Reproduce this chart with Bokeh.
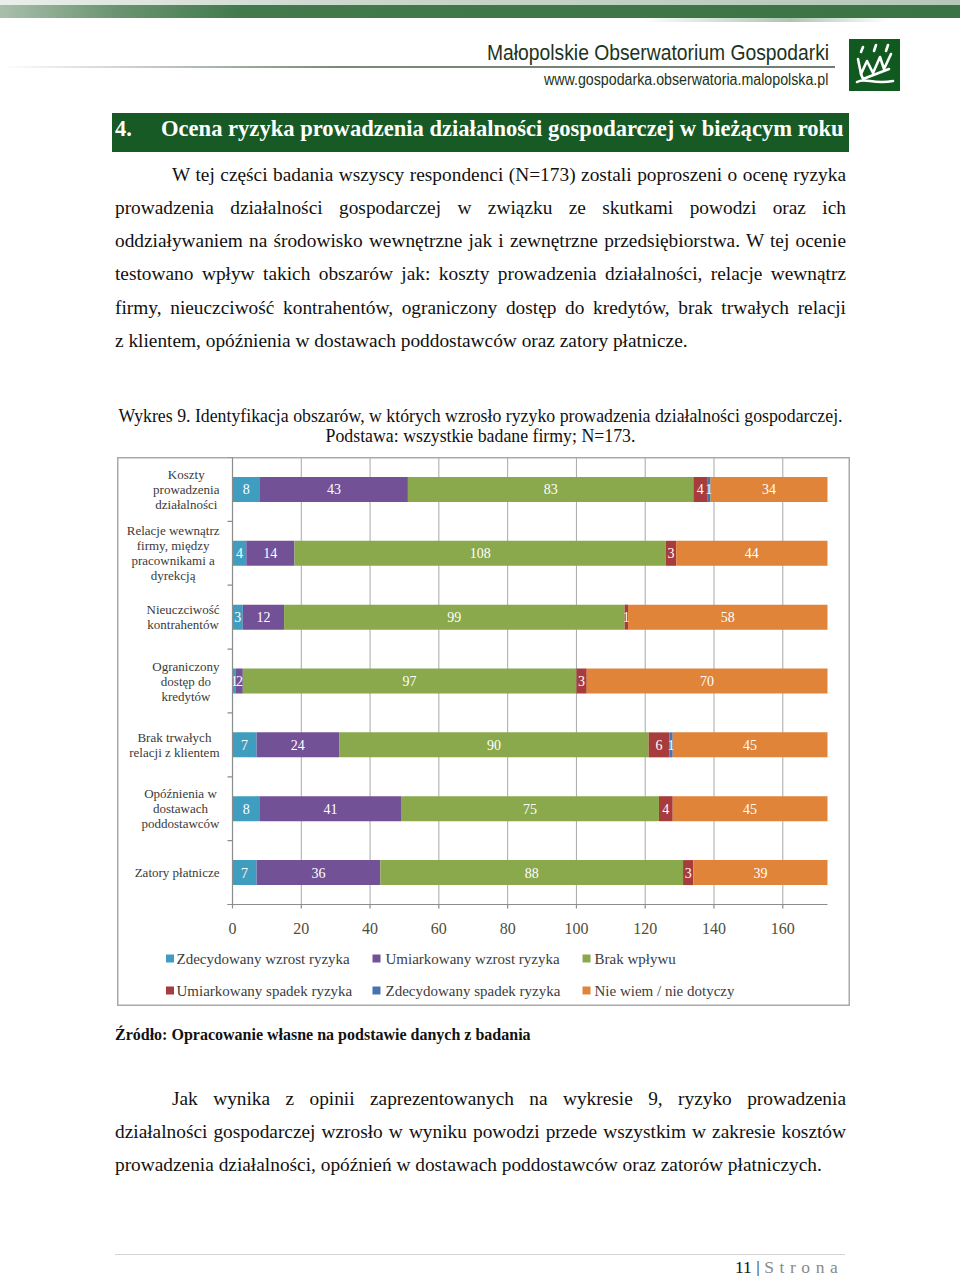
from bokeh.plotting import figure
from bokeh.models import Div, Spacer, Range1d, ColumnDataSource
from bokeh.layouts import column, row
from bokeh.embed import file_html
from bokeh.resources import INLINE
from bokeh.core.properties import value

# ---------------- data ----------------
categories = [
    "Koszty\nprowadzenia\ndziałalności",
    "Relacje wewnątrz\nfirmy, między\npracownikami a\ndyrekcją",
    "Nieuczciwość\nkontrahentów",
    "Ograniczony\ndostęp do\nkredytów",
    "Brak trwałych\nrelacji z klientem",
    "Opóźnienia w\ndostawach\npoddostawców",
    "Zatory płatnicze",
]
series_names = [
    "Zdecydowany wzrost ryzyka",
    "Umiarkowany wzrost ryzyka",
    "Brak wpływu",
    "Umiarkowany spadek  ryzyka",
    "Zdecydowany spadek ryzyka",
    "Nie wiem / nie dotyczy",
]
zdecydowany_wzrost = [8, 4, 3, 1, 7, 8, 7]
umiarkowany_wzrost = [43, 14, 12, 2, 24, 41, 36]
brak_wplywu = [83, 108, 99, 97, 90, 75, 88]
umiarkowany_spadek = [4, 3, 1, 3, 6, 4, 3]
zdecydowany_spadek = [1, 0, 0, 0, 1, 0, 0]
nie_wiem = [34, 44, 58, 70, 45, 45, 39]
x_ticks = [0, 20, 40, 60, 80, 100, 120, 140, 160]
x_tick_labels = ["0", "20", "40", "60", "80", "100", "120", "140", "160"]

series_values = [zdecydowany_wzrost, umiarkowany_wzrost, brak_wplywu,
                 umiarkowany_spadek, zdecydowany_spadek, nie_wiem]
colors = ["#3f9ebf", "#725197", "#8aa84c", "#a83b3b", "#4a72b0", "#e0843a"]

SERIF = "Liberation Serif"

# ---------------- chart geometry (pixels inside the chart box) ----------------
CHART_LEFT, CHART_TOP = 117, 457
CW, CH = 733, 549          # chart box size
X0_PX, XMAX_PX = 115, 710  # pixel of value 0 and of total (173)
TOTAL = 173
BAND = 447 / 7.0           # height of one category band
sx = (XMAX_PX - X0_PX) / TOTAL
x_start = -X0_PX / sx
x_end = x_start + CW / sx
y_top = -0.5
y_bottom = y_top + CH / BAND

def px_x(px):   # chart-box pixel -> data x
    return x_start + px / sx

def px_y(px):   # chart-box pixel (from top) -> data y
    return y_top + px / BAND

p = figure(width=CW, height=CH, output_backend="svg", toolbar_location=None,
           x_range=Range1d(x_start, x_end), y_range=Range1d(y_bottom, y_top),
           x_axis_type=None, y_axis_type=None, title=None,
           min_border=0, min_border_left=0, min_border_right=0,
           min_border_top=0, min_border_bottom=0, margin=(0, 0, 0, 0))
p.outline_line_color = "#a9a9a9"
p.outline_line_width = 2
p.background_fill_color = "white"
p.border_fill_color = "white"

n = len(categories)
rows = list(range(n))

# gridlines
grid_x = [t for t in x_ticks if t > 0]
p.segment(x0=grid_x, y0=[-0.5] * len(grid_x), x1=grid_x, y1=[n - 0.5] * len(grid_x),
          line_color="#a8a8a8", line_width=1)

# stacked bars
keys = ["s%d" % i for i in range(len(series_values))]
data = {"row": rows}
for k, vals in zip(keys, series_values):
    data[k] = vals
src = ColumnDataSource(data)
p.hbar_stack(keys, y="row", height=25 / BAND, color=colors, line_color=None, source=src)

# bar value labels
lx, ly, lt = [], [], []
for i in rows:
    cum = 0
    for vals in series_values:
        v = vals[i]
        if v > 0:
            lx.append(cum + v / 2.0)
            ly.append(i)
            lt.append(str(v))
        cum += v
p.text(x=lx, y=ly, text=lt, text_color="white", text_font=value(SERIF),
       text_font_size="14px", text_align="center", text_baseline="middle")

# category axis
p.segment(x0=[0], y0=[-0.5], x1=[0], y1=[n - 0.5], line_color="#8c8c8c", line_width=1.2)
bounds = [i - 0.5 for i in range(n + 1)]
p.segment(x0=[0] * len(bounds), y0=bounds, x1=[-5 / sx] * len(bounds), y1=bounds,
          line_color="#8c8c8c", line_width=1.2)
p.text(x=[-13 / sx] * n, y=rows, text=categories, text_color="#3a3a3a",
       text_font=value(SERIF), text_font_size="13px", text_align="center",
       anchor="center_right", text_baseline="middle", text_line_height=1.0)

# value axis
p.segment(x0=[-5 / sx], y0=[n - 0.5], x1=[TOTAL], y1=[n - 0.5], line_color="#8c8c8c", line_width=1.2)
p.segment(x0=x_ticks, y0=[n - 0.5] * len(x_ticks), x1=x_ticks,
          y1=[n - 0.5 + 4 / BAND] * len(x_ticks), line_color="#8c8c8c", line_width=1.2)
p.text(x=x_ticks, y=[px_y(471)] * len(x_ticks), text=x_tick_labels, text_color="#4f4f3c",
       text_font=value(SERIF), text_font_size="16px", text_align="center",
       text_baseline="middle")

# legend (manual, two rows of three)
leg_sq_px = [52.5, 259, 469]
leg_tx_px = [59, 268, 477]
leg_row_px = [501, 533]
sq_x, sq_y, tx_x, tx_y = [], [], [], []
for j in range(len(series_names)):
    r, c = divmod(j, 3)
    sq_x.append(px_x(leg_sq_px[c]))
    sq_y.append(px_y(leg_row_px[r]))
    tx_x.append(px_x(leg_tx_px[c]))
    tx_y.append(px_y(leg_row_px[r]))
p.scatter(x=sq_x, y=sq_y, marker="square", size=8, fill_color=colors, line_color=None)
p.text(x=tx_x, y=tx_y, text=series_names, text_color="#3c3c3c", text_font=value(SERIF),
       text_font_size="15px", text_align="left", text_baseline="middle")

# ---------------- HTML parts (page coordinates) ----------------
def line(left, cy, width, text, size, justify=True, extra=""):
    lh = round(size * 1.2, 2)
    top = round(cy - 0.64 * size, 2)
    ta = "text-align:justify;text-align-last:justify;" if justify else ""
    return ('<div style="position:absolute;left:%spx;top:%spx;width:%spx;height:%spx;'
            'line-height:%spx;font-size:%spx;font-family:\'Liberation Serif\',serif;'
            'white-space:nowrap;color:#111;%s%s">%s</div>' % (left, top, width, lh, lh, size, ta, extra, text))

def scaled(left, top, text, size, sxk, style):
    return ('<div style="position:absolute;left:%spx;top:%spx;white-space:nowrap;font-size:%spx;'
            'line-height:%spx;transform:scaleX(%s);transform-origin:0 0;%s">%s</div>'
            % (left, top, size, round(size * 1.15, 2), sxk, style, text))

logo_svg = (
    '<svg width="51" height="52" viewBox="0 0 51 52">'
    '<rect x="0" y="0" width="51" height="52" fill="#10591f"/>'
    '<g stroke="white" stroke-width="2.6" fill="none" stroke-linecap="round" stroke-linejoin="round">'
    '<path d="M12 13 l2 -5"/><path d="M25 12 l2 -6"/><path d="M37 12 l2 -6"/>'
    '<path d="M9 20 L12 35 L18 22 L24 34 L31 18 L35 30 L42 15"/>'
    '<path d="M12 35 L14 40 L40 30"/>'
    '<path d="M8 43 C 16 38, 24 46, 44 42"/>'
    '</g></svg>'
)

SANS_STYLE = "font-family:'Liberation Sans',Arial,sans-serif;color:#1d3320;"

top_parts = []
# top green band
top_parts.append('<div style="position:absolute;left:0px;top:0px;width:960px;height:5px;'
                 'background:linear-gradient(to right,#e9eee9,#c9d6ca 40%,#b5c8b7 100%);"></div>')
top_parts.append('<div style="position:absolute;left:0px;top:5px;width:960px;height:13px;'
                 'background:linear-gradient(to right,#a9bfac 0%,#6a9471 12%,#427a4c 25%,#3b7345 100%);"></div>')
top_parts.append('<div style="position:absolute;left:640px;top:18px;width:250px;height:4px;'
                 'background:linear-gradient(to right,rgba(90,140,100,0),rgba(90,140,100,0.5) 60%,rgba(90,140,100,0));"></div>')
# site name and url
top_parts.append(scaled(487, 40, "Małopolskie Obserwatorium Gospodarki", 22, 0.877, SANS_STYLE))
top_parts.append(scaled(544, 71, "www.gospodarka.obserwatoria.malopolska.pl", 16, 0.888, SANS_STYLE))
# separator line
top_parts.append('<div style="position:absolute;left:0px;top:66px;width:835px;height:1.5px;'
                 'background:linear-gradient(to right,rgba(120,135,120,0),#7b8a7b 40%,#6f7f6f 100%);"></div>')
# logo
top_parts.append('<div style="position:absolute;left:849px;top:39px;width:51px;height:52px;">%s</div>' % logo_svg)
# title bar
top_parts.append('<div style="position:absolute;left:112px;top:113px;width:737px;height:39px;background:#175a26;"></div>')
TITLE_STYLE = "font-family:'Liberation Serif',serif;font-weight:bold;color:white;"
top_parts.append(scaled(115, 116, "4.", 22.5, 1, TITLE_STYLE))
top_parts.append(scaled(161, 116, "Ocena ryzyka prowadzenia działalności gospodarczej w bieżącym roku", 22.5, 1.003, TITLE_STYLE))

para1 = [
    "W tej części badania wszyscy respondenci (N=173) zostali poproszeni o ocenę ryzyka",
    "prowadzenia działalności gospodarczej w związku ze skutkami powodzi oraz ich",
    "oddziaływaniem na środowisko wewnętrzne jak i zewnętrzne przedsiębiorstwa. W tej ocenie",
    "testowano wpływ takich obszarów jak: koszty prowadzenia działalności, relacje wewnątrz",
    "firmy, nieuczciwość kontrahentów, ograniczony dostęp do kredytów, brak trwałych relacji",
    "z klientem, opóźnienia w dostawach poddostawców oraz zatory płatnicze.",
]
p1_cy = [175, 208, 241, 274, 308, 341]
for k, (t, cy) in enumerate(zip(para1, p1_cy)):
    left = 172 if k == 0 else 115
    top_parts.append(line(left, cy, 846 - left, t, 19.35, justify=(k < len(para1) - 1)))

top_parts.append(line(80, 417, 801,
                      "Wykres 9. Identyfikacja obszarów, w których wzrosło ryzyko prowadzenia działalności gospodarczej.",
                      17.8, justify=False, extra="text-align:center;"))
top_parts.append(line(80, 437, 801, "Podstawa: wszystkie badane firmy; N=173.", 17.8,
                      justify=False, extra="text-align:center;"))

TOP_H = CHART_TOP
top_html = '<div style="position:relative;width:960px;height:%dpx;">%s</div>' % (TOP_H, "".join(top_parts))
top_div = Div(text=top_html, width=960, height=TOP_H, margin=(0, 0, 0, 0))

BOT0 = CHART_TOP + CH  # page y where bottom div starts
BOT_H = 1276 - BOT0
bot_parts = []
bot_parts.append(line(115, 1035 - BOT0, 600,
                      "Źródło: Opracowanie własne na podstawie danych z badania", 16,
                      justify=False, extra="font-weight:bold;"))
para2 = [
    "Jak wynika z opinii zaprezentowanych na wykresie 9, ryzyko prowadzenia",
    "działalności gospodarczej wzrosło w wyniku powodzi przede wszystkim w zakresie kosztów",
    "prowadzenia działalności, opóźnień w dostawach poddostawców oraz zatorów płatniczych.",
]
p2_cy = [1099, 1132, 1165]
for k, (t, cy) in enumerate(zip(para2, p2_cy)):
    left = 172 if k == 0 else 115
    bot_parts.append(line(left, cy - BOT0, 846 - left, t, 19.35, justify=(k < len(para2) - 1)))
bot_parts.append('<div style="position:absolute;left:115px;top:%dpx;width:730px;height:1px;background:#d4d4d4;"></div>'
                 % (1254 - BOT0))
bot_parts.append(line(735, 1268 - BOT0, 125,
                      '11 <span style="color:#222">|</span> <span style="color:#8a8a8a;letter-spacing:5.6px">Strona</span>',
                      17.5, justify=False))
bot_html = '<div style="position:relative;width:960px;height:%dpx;">%s</div>' % (BOT_H, "".join(bot_parts))
bot_div = Div(text=bot_html, width=960, height=BOT_H, margin=(0, 0, 0, 0))

layout = column(top_div,
                row(Spacer(width=CHART_LEFT, height=CH, margin=(0, 0, 0, 0)), p, spacing=0,
                    margin=(0, 0, 0, 0)),
                bot_div, spacing=0, margin=(0, 0, 0, 0))

open("out.html", "w").write(file_html(layout, INLINE))
